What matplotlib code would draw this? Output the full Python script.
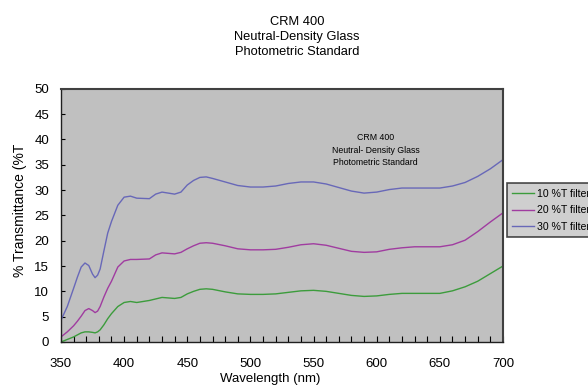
import matplotlib
matplotlib.use("Agg")
import matplotlib.pyplot as plt
from matplotlib.ticker import MultipleLocator

plt.rcParams['font.family'] = ['Liberation Sans', 'DejaVu Sans']

# wavelength grid (nm) and transmittance of the three filters (%T)
wavelength = [350, 355, 360, 363, 366, 369, 372, 375, 377, 379, 381, 384, 387, 390,
              395, 400, 405, 410,
              420, 425, 430, 440, 445, 450, 455, 460, 465, 470,
              480, 490, 500, 510, 520, 530, 540, 550, 560, 570, 580, 590, 600,
              610, 620, 630, 640, 650, 660, 670, 680, 690, 700]

t10 = [0.0, 0.5, 1.0, 1.4, 1.8, 2.0, 2.0, 1.9, 1.8, 2.0, 2.4, 3.4, 4.6, 5.6,
       7.0, 7.8, 8.0, 7.8,
       8.2, 8.5, 8.8, 8.6, 8.8, 9.5, 10.0, 10.4, 10.5, 10.4,
       9.9, 9.5, 9.4, 9.4, 9.5, 9.8, 10.1, 10.2, 10.0, 9.6, 9.2, 9.0, 9.1,
       9.4, 9.6, 9.6, 9.6, 9.6, 10.1, 10.9, 12.0, 13.5, 15.0]

t20 = [1.0, 2.0, 3.2, 4.1, 5.1, 6.2, 6.6, 6.2, 5.8, 6.1, 7.0, 8.9, 10.6, 12.0,
       14.8, 16.0, 16.3, 16.3,
       16.4, 17.2, 17.6, 17.4, 17.7, 18.4, 19.0, 19.5, 19.6, 19.5,
       19.0, 18.4, 18.2, 18.2, 18.3, 18.7, 19.2, 19.4, 19.1, 18.5, 17.9, 17.7, 17.8,
       18.3, 18.6, 18.8, 18.8, 18.8, 19.2, 20.1, 21.8, 23.7, 25.5]

t30 = [4.3, 7.0, 10.6, 12.8, 14.8, 15.6, 15.1, 13.4, 12.7, 13.2, 14.4, 18.0, 21.5, 23.8,
       27.0, 28.6, 28.8, 28.4,
       28.3, 29.2, 29.6, 29.2, 29.6, 31.0, 31.9, 32.5, 32.6, 32.3,
       31.6, 30.9, 30.6, 30.6, 30.8, 31.3, 31.6, 31.6, 31.2, 30.5, 29.8, 29.4, 29.6,
       30.1, 30.4, 30.4, 30.4, 30.4, 30.8, 31.5, 32.7, 34.2, 36.0]

labels = ["10 %T filter", "20 %T filter", "30 %T filter"]
colors = ["#3c9c3c", "#a03ca0", "#6868b8"]

fig = plt.figure(figsize=(5.88, 3.86), dpi=100)
ax = fig.add_axes([0.1037, 0.114, 0.7517, 0.656])
ax.set_facecolor("#c0c0c0")

for y, lab, c in zip([t10, t20, t30], labels, colors):
    ax.plot(wavelength, y, color=c, lw=1.0, label=lab)

ax.set_xlim(350, 700)
ax.set_ylim(0, 50)
ax.xaxis.set_major_locator(MultipleLocator(50))
ax.xaxis.set_minor_locator(MultipleLocator(10))
ax.yaxis.set_major_locator(MultipleLocator(5))
ax.tick_params(axis="x", which="both", direction="in", length=4, width=0.8,
               labelsize=9.5, pad=11.5)
ax.tick_params(axis="y", which="major", direction="in", length=3, width=0.8,
               labelsize=9.5, pad=8.5)
for side in ["left", "bottom"]:
    ax.spines[side].set_color("#202020")
    ax.spines[side].set_linewidth(1.0)
for side in ["top", "right"]:
    ax.spines[side].set_color("#404040")
    ax.spines[side].set_linewidth(1.5)

ax.set_xlabel("Wavelength (nm)", fontsize=9.5)
ax.xaxis.set_label_coords(0.473, -0.122)
ax.set_ylabel("% Transmittance (%T", fontsize=10)
ax.yaxis.set_label_coords(-0.076, 0.52)

fig.text(0.505, 0.904, "CRM 400\nNeutral-Density Glass\nPhotometric Standard",
         ha="center", va="center", fontsize=9.3, linespacing=1.35)

ax.text(599, 37.9, "CRM 400\nNeutral- Density Glass\nPhotometric Standard",
        ha="center", va="center", fontsize=6.3, linespacing=1.45)

leg = ax.legend(loc="upper left", bbox_to_anchor=(1.009, 0.626), fontsize=7.6,
                frameon=True, fancybox=False, shadow=False, borderpad=0.5,
                handlelength=2.1, handletextpad=0.2, labelspacing=0.62,
                borderaxespad=0)
leg.get_frame().set_edgecolor("#202020")
leg.get_frame().set_linewidth(1.2)
leg.get_frame().set_facecolor("#c4c4c4")

fig.savefig("out.png", dpi=100)
